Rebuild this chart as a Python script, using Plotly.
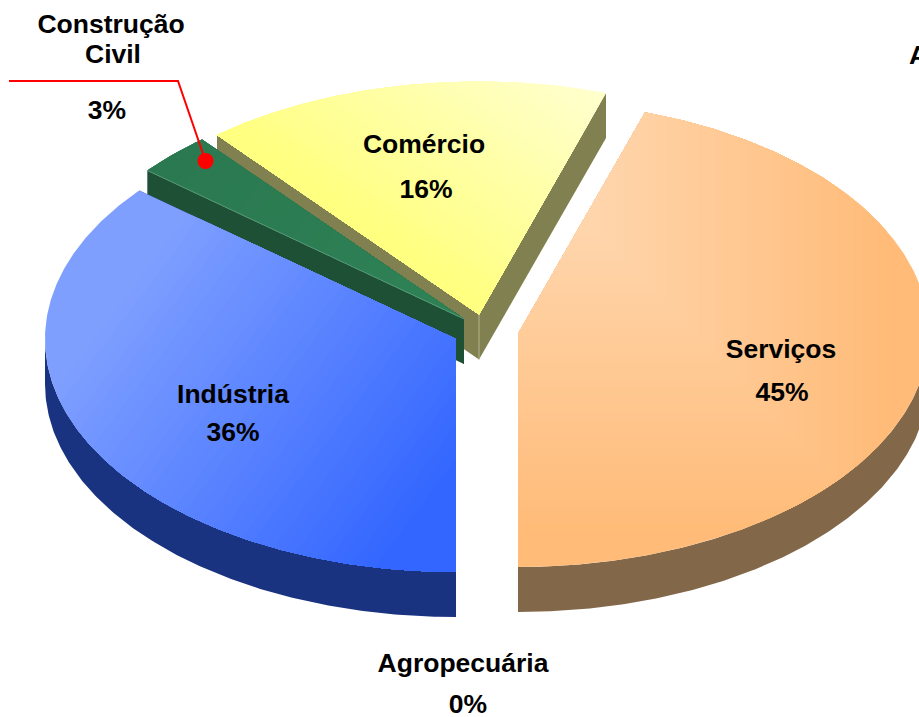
import numpy as np
import plotly.graph_objects as go

# ---- data ----
categories = ["Serviços", "Agropecuária", "Indústria", "Construção Civil", "Comércio"]
shares = [45, 0, 36, 3, 16]

# ---- projected pie geometry (pixels of the 919x717 page) ----
W, H = 919, 717
RX, RY, DEPTH = 411.0, 233.0, 45.0
START_ANGLE = 18.0
CENTERS = {"Serviços": (518, 334), "Agropecuária": (487, 336), "Indústria": (456, 339),
           "Construção Civil": (464, 319), "Comércio": (479, 314.5)}
WALL = {"Serviços": "#826849", "Indústria": "#1A3380", "Construção Civil": "#1D5035", "Comércio": "#808050"}
# linear gradients: colour from, colour to, direction, start, end
GRAD = {
    "Indústria": ((127, 159, 255), (51, 102, 255), (0.80, 0.60), 270, 640),
    "Construção Civil": ((42, 120, 80), (46, 128, 85), (0.80, 0.60), 200, 500),
    "Comércio": ((255, 255, 204), (255, 255, 128), (-0.58, 0.82), -270, -30),
}
# path gradient of the largest slice: outer colour, inner colour, limits at the outer and inner end
PATH_GRAD = {"Serviços": ((255, 187, 119), (255, 213, 172), (895, 540, 1010), (600, 235, 590))}
DRAW_ORDER = ["Comércio", "Construção Civil", "Indústria", "Serviços"]
N_BANDS = 36

DY = 2
# one line per label row: text, x, y
LABELS = [
    ("Construção", 111, 24), ("Civil", 113, 54), (f"{shares[3]}%", 107, 110),
    ("Comércio", 424, 144), (f"{shares[4]}%", 426, 189),
    ("Serviços", 781, 349), (f"{shares[0]}%", 782, 392),
    ("Indústria", 233, 394), (f"{shares[2]}%", 233, 432),
    ("Agropecuária", 463, 663), (f"{shares[1]}%", 468, 704),
]


def pt(c, a):
    r = np.radians(a)
    return np.array([c[0] + RX * np.sin(r), c[1] - RY * np.cos(r)])


def arc(c, a, b):
    n = max(2, int(abs(b - a) * 2))
    return [pt(c, t) for t in np.linspace(a, b, n)]


def clip(poly, n, t):
    """Keep the part of a convex polygon where dot(p, n) >= t."""
    out = []
    m = len(poly)
    for i in range(m):
        p, q = poly[i], poly[(i + 1) % m]
        dp, dq = p @ n - t, q @ n - t
        if dp >= 0:
            out.append(p)
        if dp * dq < 0:
            out.append(p + (q - p) * dp / (dp - dq))
    return out


def poly_trace(poly, color):
    xs = [p[0] for p in poly] + [poly[0][0]]
    ys = [p[1] for p in poly] + [poly[0][1]]
    return go.Scatter(x=xs, y=ys, mode="lines", fill="toself", fillcolor=color,
                      line=dict(width=0), hoverinfo="skip", showlegend=False)


def rgb(c):
    return "rgb(%d,%d,%d)" % tuple(int(round(v)) for v in c)


spans = {}
angle = START_ANGLE
for name, v in zip(categories, shares):
    spans[name] = (angle, angle + v * 3.6)
    angle += v * 3.6

fig = go.Figure()
down = np.array([0, DEPTH])
for name in DRAW_ORDER:
    a, b = spans[name]
    c = np.array(CENTERS[name], dtype=float)
    wall = WALL[name]
    # cut faces
    for e in (a, b):
        p = pt(c, e)
        fig.add_trace(poly_trace([c, p, p + down, c + down], wall))
    # outer rim (front half only)
    lo, hi = max(a, 90), min(b, 270)
    if hi > lo:
        top = arc(c, lo, hi)
        fig.add_trace(poly_trace(top + [p + down for p in reversed(top)], wall))
    # top face, painted as a stack of clipped polygons to make the gradient
    face = [c] + arc(c, a, b)
    if name in GRAD:
        c0, c1, d, t0, t1 = GRAD[name]
        n = np.array(d)
        fig.add_trace(poly_trace(face, rgb(c0)))
        for i in range(1, N_BANDS + 1):
            f = i / N_BANDS
            band = clip(face, n, t0 + (t1 - t0) * f)
            if len(band) >= 3:
                fig.add_trace(poly_trace(band, rgb([u + (w - u) * f for u, w in zip(c0, c1)])))
    else:
        c0, c1, outer, inner = PATH_GRAD[name]
        fig.add_trace(poly_trace(face, rgb(c0)))
        for i in range(1, N_BANDS + 1):
            f = i / N_BANDS
            xl, yl, dl = [u + (w - u) * f for u, w in zip(outer, inner)]
            band = clip(face, np.array([-1.0, 0.0]), -xl)
            if len(band) >= 3:
                band = clip(band, np.array([0.0, -1.0]), -yl)
            if len(band) >= 3:
                band = clip(band, np.array([-0.707, -0.707]), -dl)
            if len(band) >= 3:
                fig.add_trace(poly_trace(band, rgb([u + (w - u) * f for u, w in zip(c0, c1)])))

# thin light seams on the slice edges
sc = np.array(CENTERS["Comércio"], dtype=float)
fig.add_trace(go.Scatter(x=[sc[0], sc[0]], y=[sc[1], sc[1] + DEPTH], mode="lines",
                         line=dict(color="#B4B48C", width=1), hoverinfo="skip", showlegend=False))
gc = np.array(CENTERS["Construção Civil"], dtype=float)
ge = pt(gc, spans["Construção Civil"][0])
fig.add_trace(go.Scatter(x=[ge[0], gc[0]], y=[ge[1], gc[1]], mode="lines",
                         line=dict(color="#6FA58A", width=0.7), hoverinfo="skip", showlegend=False))

# leader line and its dot
fig.add_trace(go.Scatter(x=[9, 178, 205.5], y=[81, 81, 161], mode="lines",
                         line=dict(color="#FF0000", width=2), hoverinfo="skip", showlegend=False))
fig.add_trace(go.Scatter(x=[205.5], y=[161], mode="markers",
                         marker=dict(color="#FF0000", size=16, line=dict(width=0)),
                         hoverinfo="skip", showlegend=False))

FONT = dict(family="Liberation Sans, Arial, sans-serif", size=26.5, color="#000000")
fig.add_trace(go.Scatter(x=[l[1] for l in LABELS], y=[l[2] + DY for l in LABELS],
                         text=["<b>%s</b>" % l[0] for l in LABELS], mode="text",
                         textposition="middle center", textfont=FONT,
                         hoverinfo="skip", showlegend=False, cliponaxis=False))
# label of a further category: only its first letter falls inside the page
fig.add_trace(go.Scatter(x=[909], y=[55 + DY], text=["<b>A</b>"], mode="text",
                         textposition="middle right", textfont=FONT,
                         hoverinfo="skip", showlegend=False, cliponaxis=False))

fig.update_layout(width=W, height=H, margin=dict(l=0, r=0, t=0, b=0),
                  paper_bgcolor="white", plot_bgcolor="white", showlegend=False,
                  xaxis=dict(range=[0, W], visible=False, fixedrange=True),
                  yaxis=dict(range=[H, 0], visible=False, fixedrange=True))
fig.write_html("out.html", config=dict(displayModeBar=False),
               post_script="document.body.style.margin='0';document.body.style.overflow='hidden';")
